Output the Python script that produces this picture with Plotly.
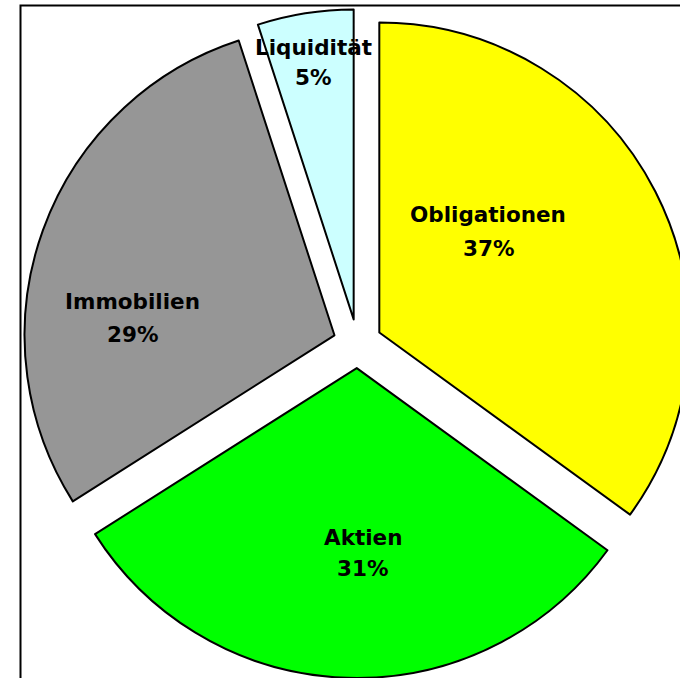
import plotly.graph_objects as go

categories = ["Obligationen", "Aktien", "Immobilien", "Liquidität"]
values = [35, 31, 29, 5]
pct_labels = ["37%", "31%", "29%", "5%"]
colors = ["#FFFF00", "#00FF00", "#969696", "#CCFFFF"]

# label placement (pixel centers of the two text lines), layout only
label_x = [488, 362.5, 132.5, 313]
label_y_name = [215, 537.5, 301.5, 47]
label_y_pct = [248.5, 568, 335, 78]

W, H = 692, 678
cx, cy = 357.5, 343.6
R = 334.4

fig = go.Figure(go.Pie(
    labels=categories,
    values=values,
    textinfo="none",
    sort=False,
    direction="clockwise",
    rotation=0,
    pull=[0.079] * 4,
    marker=dict(colors=colors, line=dict(color="black", width=2)),
    domain=dict(x=[(cx - R) / W, min(1, (cx + R) / W)],
                y=[max(0, (H - cy - R) / H), (H - cy + R) / H]),
    showlegend=False,
    hoverinfo="label+percent",
))

font = dict(family="DejaVu Sans", size=21.5, color="black", weight="bold")
annotations = []
for name, pct, x, yn, yp in zip(categories, pct_labels, label_x, label_y_name, label_y_pct):
    annotations.append(dict(text=name, x=x / W, y=1 - yn / H, xref="paper", yref="paper",
                            xanchor="center", yanchor="middle", showarrow=False, font=font))
    annotations.append(dict(text=pct, x=x / W, y=1 - yp / H, xref="paper", yref="paper",
                            xanchor="center", yanchor="middle", showarrow=False, font=font))

fig.update_layout(
    width=W, height=H,
    margin=dict(l=0, r=0, t=0, b=0),
    paper_bgcolor="white",
    annotations=annotations,
    shapes=[dict(type="rect", xref="paper", yref="paper",
                 x0=20.5 / W, x1=1.1, y0=-0.1, y1=1 - 5.5 / H,
                 line=dict(color="black", width=2), fillcolor="rgba(0,0,0,0)",
                 layer="above")],
)

fig.write_html("out.html",
               config={"displayModeBar": False},
               post_script="document.body.style.margin='0';document.body.style.overflow='hidden';")
